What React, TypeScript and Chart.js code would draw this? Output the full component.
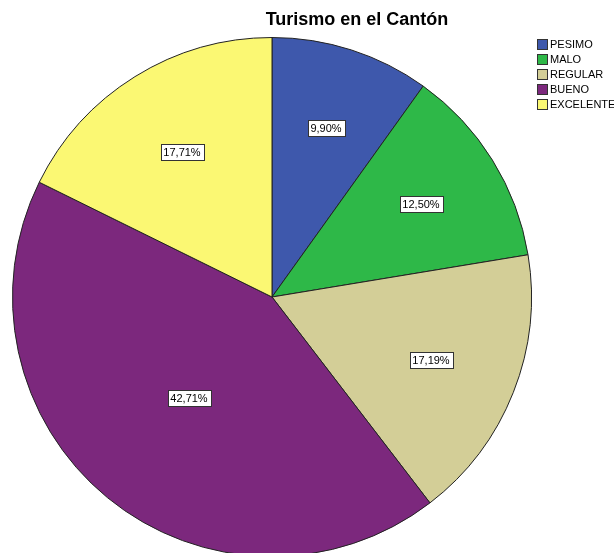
import React, { useEffect, useRef } from "react";
import { Chart, registerables } from "chart.js";

Chart.register(...registerables);

const title = "Turismo en el Cantón";
const categories = ["PESIMO", "MALO", "REGULAR", "BUENO", "EXCELENTE"];
const percentages = [9.9, 12.5, 17.19, 42.71, 17.71];
const colors = ["#3E58AC", "#2EB848", "#D3CE97", "#7C287D", "#FBF873"];

const FONT = "Arial, 'Liberation Sans', sans-serif";

const fmt = (v: number) => v.toFixed(2).replace(".", ",") + "%";

// Title, legend and the boxed value labels drawn straight on the canvas
const decorations = {
  id: "decorations",
  afterDatasetsDraw(chart: any) {
    const ctx = chart.ctx as CanvasRenderingContext2D;
    const meta = chart.getDatasetMeta(0);
    const values = chart.data.datasets[0].data as number[];

    // value labels placed near the centroid of each sector
    ctx.save();
    ctx.font = `11px ${FONT}`;
    ctx.textBaseline = "middle";
    ctx.textAlign = "center";
    meta.data.forEach((arc: any, i: number) => {
      const { x, y, startAngle, endAngle, outerRadius } = arc.getProps(
        ["x", "y", "startAngle", "endAngle", "outerRadius"],
        true
      );
      const theta = endAngle - startAngle;
      const mid = (startAngle + endAngle) / 2;
      const d = (1.04 * 4 * outerRadius * Math.sin(theta / 2)) / (3 * theta);
      const cx = Math.round(x + d * Math.cos(mid));
      const cy = Math.round(y + d * Math.sin(mid));
      const text = fmt(values[i]);
      const w = Math.round(ctx.measureText(text).width) + 6;
      const h = 16;
      const left = Math.round(cx - w / 2) + 0.5;
      const top = Math.round(cy - h / 2) + 0.5;
      ctx.fillStyle = "#ffffff";
      ctx.fillRect(left, top, w, h);
      ctx.strokeStyle = "#333333";
      ctx.lineWidth = 1;
      ctx.strokeRect(left, top, w, h);
      ctx.fillStyle = "#000000";
      ctx.fillText(text, cx, cy + 0.5);
    });
    ctx.restore();
  },
  afterDraw(chart: any) {
    const ctx = chart.ctx as CanvasRenderingContext2D;
    ctx.save();
    // title
    ctx.font = `bold 18px ${FONT}`;
    ctx.fillStyle = "#000000";
    ctx.textAlign = "center";
    ctx.textBaseline = "alphabetic";
    ctx.fillText(title, 357, 25);

    // legend
    ctx.font = `11px ${FONT}`;
    ctx.textAlign = "left";
    ctx.textBaseline = "middle";
    const labels = chart.data.labels as string[];
    const bg = chart.data.datasets[0].backgroundColor as string[];
    labels.forEach((lab, i) => {
      const yc = 44 + i * 15;
      ctx.fillStyle = bg[i];
      ctx.fillRect(537, yc - 5, 10, 10);
      ctx.strokeStyle = "#333333";
      ctx.lineWidth = 1;
      ctx.strokeRect(537.5, yc - 4.5, 10, 10);
      ctx.fillStyle = "#000000";
      ctx.fillText(lab, 550, yc + 0.5);
    });
    ctx.restore();
  },
};

export default function App() {
  const canvasRef = useRef<HTMLCanvasElement | null>(null);

  useEffect(() => {
    const canvas = canvasRef.current;
    if (!canvas) return;
    const chart = new Chart(canvas, {
      type: "pie",
      data: {
        labels: categories,
        datasets: [
          {
            data: percentages,
            backgroundColor: colors,
            borderColor: "#222222",
            borderWidth: 1,
          },
        ],
      },
      options: {
        responsive: false,
        animation: false,
        devicePixelRatio: 1,
        layout: { padding: { left: 12, right: 82, top: 37, bottom: 37 } },
        plugins: {
          legend: { display: false },
          title: { display: false },
          tooltip: { enabled: false },
        },
      },
      plugins: [decorations],
    });
    return () => chart.destroy();
  }, []);

  return (
    <div
      style={{
        position: "fixed",
        left: 0,
        top: 0,
        width: 614,
        height: 553,
        overflow: "hidden",
        background: "#ffffff",
      }}
    >
      <canvas ref={canvasRef} width={614} height={594} style={{ display: "block" }} />
    </div>
  );
}
